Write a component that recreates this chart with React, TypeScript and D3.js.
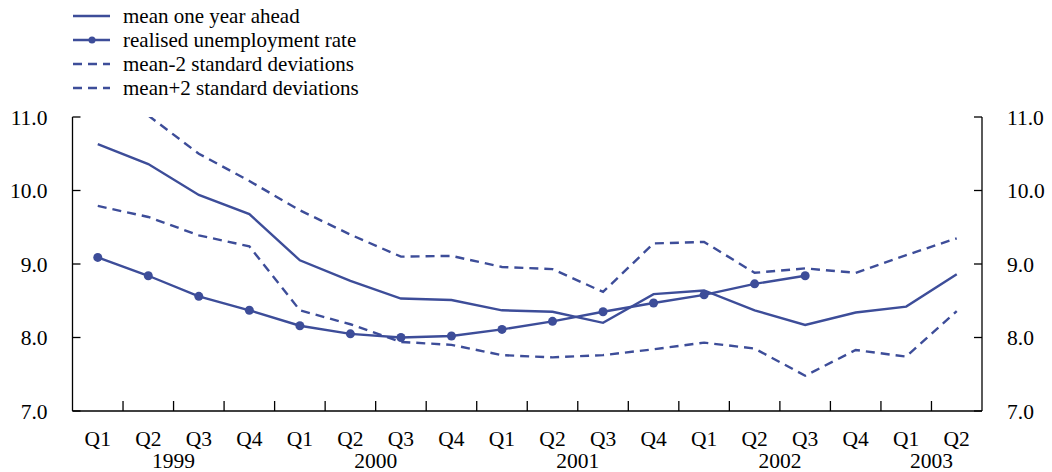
import * as d3 from "d3";

const quarterLabels = ["Q1", "Q2", "Q3", "Q4", "Q1", "Q2", "Q3", "Q4", "Q1", "Q2", "Q3", "Q4", "Q1", "Q2", "Q3", "Q4", "Q1", "Q2"];
const periodYears = ["1999", "1999", "1999", "1999", "2000", "2000", "2000", "2000", "2001", "2001", "2001", "2001", "2002", "2002", "2002", "2002", "2003", "2003"];
const yearLabels = ["1999", "2000", "2001", "2002", "2003"];
const yTicks = [7, 8, 9, 10, 11];

const meanAhead = [10.63, 10.36, 9.94, 9.68, 9.05, 8.77, 8.53, 8.51, 8.37, 8.35, 8.2, 8.59, 8.64, 8.37, 8.17, 8.34, 8.42, 8.86];
const realised = [9.09, 8.84, 8.56, 8.37, 8.16, 8.05, 8.0, 8.02, 8.11, 8.22, 8.35, 8.47, 8.58, 8.73, 8.84, null, null, null];
const meanMinus2sd = [9.79, 9.64, 9.39, 9.24, 8.37, 8.18, 7.94, 7.9, 7.76, 7.73, 7.76, 7.84, 7.93, 7.85, 7.48, 7.83, 7.74, 8.36];
const meanPlus2sd = [null, 11.02, 10.5, 10.13, 9.73, 9.4, 9.1, 9.11, 8.96, 8.93, 8.62, 9.28, 9.3, 8.88, 8.94, 8.88, 9.12, 9.35];

const legendLabels = ["mean one year ahead", "realised unemployment rate", "mean-2 standard deviations", "mean+2 standard deviations"];

const W = 1052;
const H = 472;
const margin = { top: 117, right: 70, bottom: 61, left: 72.5 };
const color = "#3d4d99";
const font = "'Liberation Serif', 'Times New Roman', serif";

const App = () => {
  const periods = quarterLabels.map((_, i) => i);

  const x = d3.scaleBand<number>().domain(periods).range([margin.left, W - margin.right]);
  const y = d3.scaleLinear().domain([7, 11]).range([H - margin.bottom, margin.top]);
  const cx = (i: number) => (x(i) as number) + x.bandwidth() / 2;

  const line = d3
    .line<number | null>()
    .defined((d) => d !== null)
    .x((_, i) => cx(i))
    .y((d) => y(d as number));

  const series = [
    { values: meanAhead, dash: undefined, dots: false },
    { values: realised, dash: undefined, dots: true },
    { values: meanMinus2sd, dash: "9,6", dots: false },
    { values: meanPlus2sd, dash: "9,6", dots: false },
  ];

  const x0 = margin.left;
  const x1 = W - margin.right;
  const yBottom = H - margin.bottom;

  // year label centred on the quarters belonging to that year
  const yearPos = yearLabels.map((yr) => {
    const idx = periods.filter((i) => periodYears[i] === yr);
    const start = x(idx[0]) as number;
    const end = (x(idx[idx.length - 1]) as number) + x.bandwidth();
    return { yr, pos: (start + end) / 2 };
  });

  return (
    <svg width={W} height={H} style={{ position: "absolute", left: 0, top: 0, background: "#fff" }} fontFamily={font}>
      <defs>
        <clipPath id="plot">
          <rect x={x0} y={margin.top} width={x1 - x0} height={yBottom - margin.top} />
        </clipPath>
      </defs>

      {/* axes */}
      <g stroke="#000" strokeWidth={1.3} fill="none">
        <line x1={x0} x2={x0} y1={margin.top} y2={yBottom} />
        <line x1={x1} x2={x1} y1={margin.top} y2={yBottom} />
        <line x1={x0} x2={x1} y1={yBottom} y2={yBottom} />
        {yTicks.map((t) => (
          <g key={t}>
            <line x1={x0} x2={x0 + 8} y1={y(t)} y2={y(t)} />
            <line x1={x1} x2={x1 - 8} y1={y(t)} y2={y(t)} />
          </g>
        ))}
        {periods.slice(1).map((i) => (
          <line key={i} x1={x(i)} x2={x(i)} y1={yBottom} y2={yBottom - 10} />
        ))}
      </g>

      <g fontSize={21.5} fill="#000">
        {yTicks.map((t) => (
          <g key={t}>
            <text x={x0 - 25} y={y(t)} dy="0.35em" textAnchor="end">{t.toFixed(1)}</text>
            <text x={x1 + 25} y={y(t)} dy="0.35em" textAnchor="start">{t.toFixed(1)}</text>
          </g>
        ))}
        {periods.map((i) => (
          <text key={i} x={cx(i)} y={yBottom + 27} dy="0.35em" textAnchor="middle">{quarterLabels[i]}</text>
        ))}
        {yearPos.map((d) => (
          <text key={d.yr} x={d.pos} y={yBottom + 49} dy="0.35em" textAnchor="middle">{d.yr}</text>
        ))}
      </g>

      {/* series */}
      <g clipPath="url(#plot)">
        {series.map((s, k) => (
          <path key={k} d={line(s.values) || ""} fill="none" stroke={color} strokeWidth={2.4} strokeDasharray={s.dash} />
        ))}
        {realised.map((v, i) =>
          v === null ? null : <circle key={i} cx={cx(i)} cy={y(v)} r={4.5} fill={color} />
        )}
      </g>

      {/* legend */}
      <g fontSize={21}>
        {legendLabels.map((label, k) => {
          const ly = 16 + k * 24;
          return (
            <g key={label}>
              <line x1={73} x2={110} y1={ly} y2={ly} stroke={color} strokeWidth={2.4} strokeDasharray={series[k].dash} />
              {series[k].dots && <circle cx={92} cy={ly} r={3.5} fill={color} />}
              <text x={123} y={ly} dy="0.35em" fill="#000">{label}</text>
            </g>
          );
        })}
      </g>
    </svg>
  );
};

export default App;
